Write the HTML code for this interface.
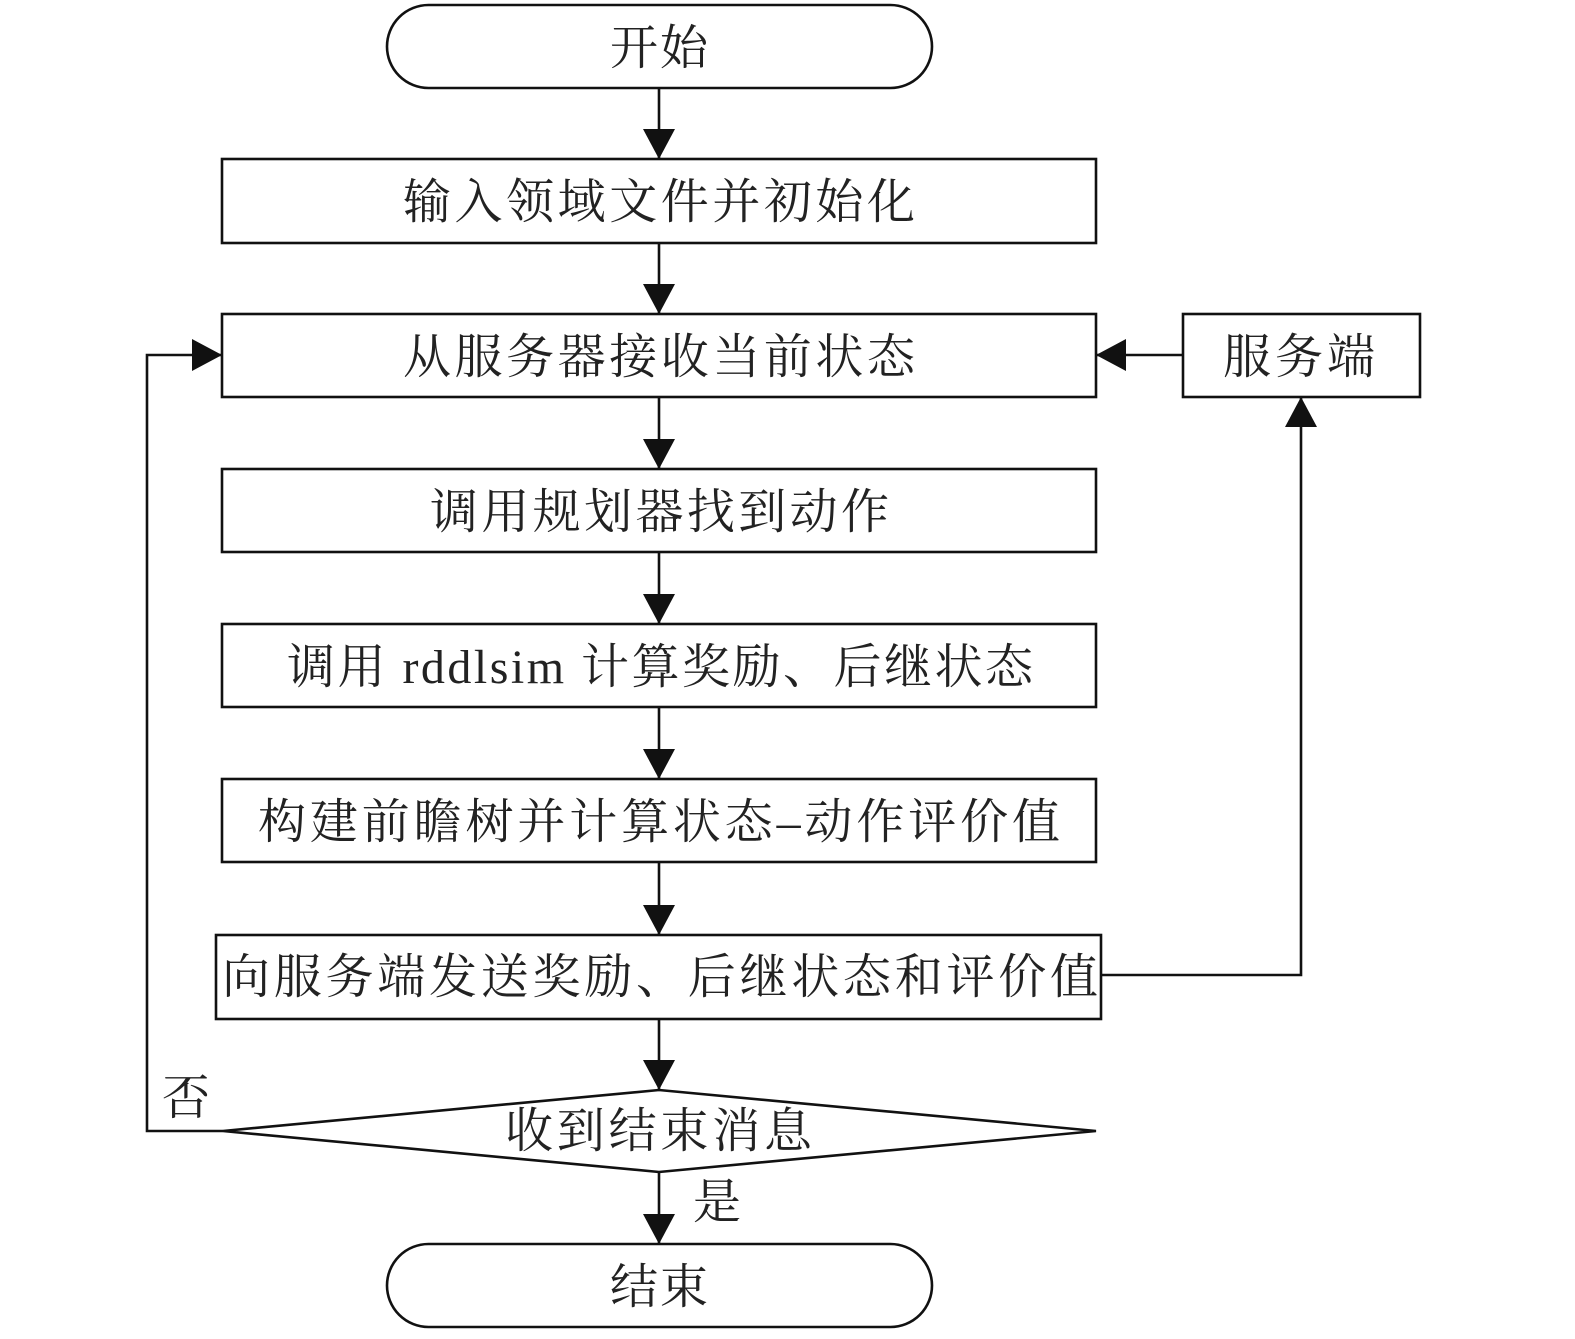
<!DOCTYPE html>
<html><head><meta charset="utf-8"><style>html,body{margin:0;padding:0;background:#fff}svg{display:block}</style></head><body>
<svg width="1575" height="1339" viewBox="0 0 1575 1339" xmlns="http://www.w3.org/2000/svg">
<defs><marker id="a" markerWidth="30" markerHeight="32" refX="30" refY="16" orient="auto" markerUnits="userSpaceOnUse"><path d="M0,0 L30,16 L0,32 Z" fill="#111"/></marker></defs>
<g fill="none" stroke="#111" stroke-width="2.6">
<rect x="387" y="5" width="545" height="83" rx="41.5"/>
<rect x="222" y="159" width="874" height="84"/>
<rect x="222" y="314" width="874" height="83"/>
<rect x="1183" y="314" width="237" height="83"/>
<rect x="222" y="469" width="874" height="83"/>
<rect x="222" y="624" width="874" height="83"/>
<rect x="222" y="779" width="874" height="83"/>
<rect x="216" y="935" width="885" height="84"/>
<path d="M223,1131 L659,1090 L1096,1131 L659,1172 Z"/>
<rect x="387" y="1244" width="545" height="83" rx="41.5"/>
<g marker-end="url(#a)">
<line x1="659" y1="88" x2="659" y2="159"/>
<line x1="659" y1="243" x2="659" y2="314"/>
<line x1="659" y1="397" x2="659" y2="469"/>
<line x1="659" y1="552" x2="659" y2="624"/>
<line x1="659" y1="707" x2="659" y2="779"/>
<line x1="659" y1="862" x2="659" y2="935"/>
<line x1="659" y1="1019" x2="659" y2="1090"/>
<line x1="659" y1="1172" x2="659" y2="1244"/>
<line x1="1183" y1="355" x2="1096" y2="355"/>
<polyline points="1101,975 1301,975 1301,397"/>
<polyline points="223,1131 147,1131 147,355 222,355"/>
</g>
</g>
<g font-family="'Liberation Serif','Noto Serif CJK SC',serif" font-size="48" fill="#222" text-anchor="start" lengthAdjust="spacingAndGlyphs">
<text x="610" y="64" textLength="98">开始</text>
<text x="403" y="218" textLength="512">输入领域文件并初始化</text>
<text x="403" y="373" textLength="512">从服务器接收当前状态</text>
<text x="1223" y="373" textLength="152">服务端</text>
<text x="430" y="528" textLength="459">调用规划器找到动作</text>
<text x="287" y="683" textLength="746">调用 rddlsim 计算奖励、后继状态</text>
<text x="258" y="838" textLength="802">构建前瞻树并计算状态–动作评价值</text>
<text x="222" y="993" textLength="876">向服务端发送奖励、后继状态和评价值</text>
<text x="505" y="1147" textLength="307">收到结束消息</text>
<text x="610" y="1303" textLength="98">结束</text>
<text x="162" y="1114">否</text>
<text x="693" y="1218">是</text>
</g>
</svg>
</body></html>
